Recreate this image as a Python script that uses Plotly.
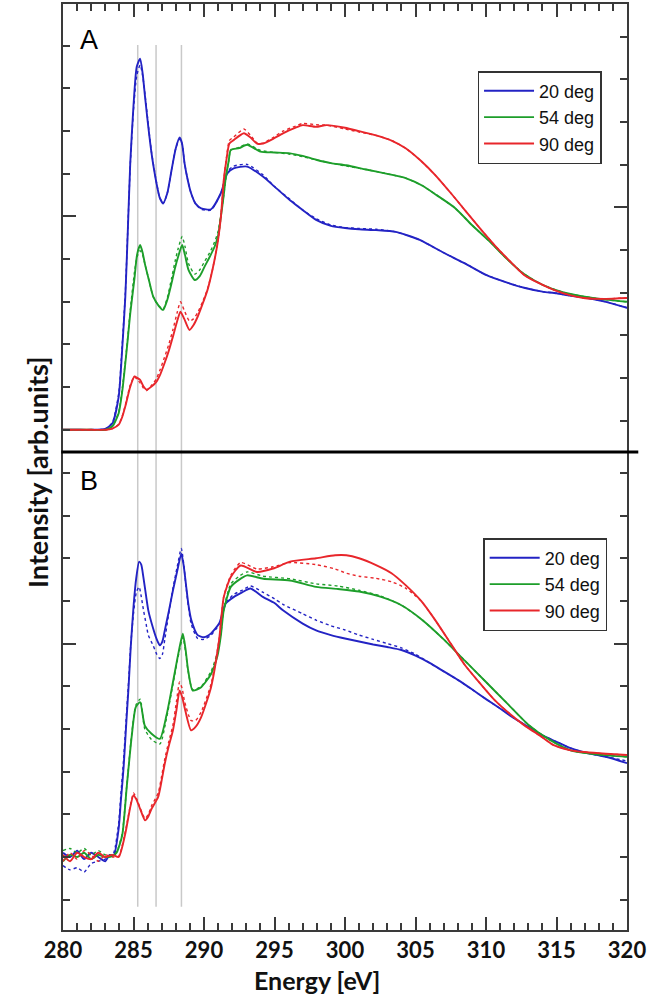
import plotly.graph_objects as go

# ---------------- data (energy in eV, intensity in tick units) ----------------
# Panel A
A_blue_E = [280, 281, 282, 283, 283.5, 283.95, 284.2, 284.42, 284.6, 284.77,
            285.0, 285.23, 285.47, 285.65, 285.82, 286.05, 286.28, 286.63, 286.85, 287.1,
            287.4, 287.7, 288.0, 288.27, 288.45, 288.62, 288.85, 289.08, 289.4, 289.8,
            290.5, 291.2, 291.65, 292.1, 293.06, 294.2, 295.0, 296.1, 297.0, 297.95,
            299, 300, 301, 302.2, 303.6, 305.3, 307, 308.5, 310, 311.5,
            312.7, 314, 315, 316, 317, 318.5, 320]
A_blue = [0, 0, 0, 0.02, 0.15, 0.78, 1.9, 3.12, 4.7, 6.25,
          7.6, 8.51, 8.7, 8.35, 7.8, 7.1, 6.48, 5.78, 5.45, 5.31,
          5.55, 6.09, 6.6, 6.85, 6.7, 6.25, 5.85, 5.55, 5.3, 5.19,
          5.17, 5.55, 6.01, 6.13, 6.17, 5.93, 5.7, 5.38, 5.15, 4.92,
          4.78, 4.73, 4.7, 4.68, 4.64, 4.45, 4.15, 3.9, 3.63, 3.45,
          3.33, 3.24, 3.2, 3.14, 3.1, 3.0, 2.86]
A_blue_dot = [0, 0, 0, 0.02, 0.17, 0.85, 2.0, 3.2, 4.75, 6.2,
              7.5, 8.3, 8.55, 8.3, 7.85, 7.15, 6.5, 5.8, 5.45, 5.3,
              5.55, 6.1, 6.6, 6.82, 6.7, 6.25, 5.85, 5.55, 5.3, 5.17,
              5.15, 5.55, 6.05, 6.18, 6.22, 5.97, 5.7, 5.4, 5.15, 4.95,
              4.8, 4.74, 4.72, 4.7, 4.64, 4.45, 4.15, 3.9, 3.63, 3.45,
              3.33, 3.24, 3.2, 3.14, 3.1, 3.0, 2.86]

A_green_E = [280, 281, 282, 283, 283.5, 283.95, 284.2, 284.42, 284.6, 284.77,
             285.07, 285.25, 285.47, 285.65, 285.8, 286.1, 286.4, 286.8, 287.1, 287.4,
             287.7, 287.95, 288.17, 288.45, 288.65, 288.9, 289.35, 289.7, 290.05, 290.4,
             290.75, 291.0, 291.2, 291.4, 291.55, 291.75, 291.9, 292.5, 293.06, 294.0,
             295, 296.1, 297, 297.95, 299, 300.1, 301.5, 303, 304.3, 305.5,
             306.5, 307.8, 309, 310.3, 311.5, 312.7, 314, 315.5, 317, 318.5,
             320]
A_green = [0, 0, 0, 0, 0.08, 0.39, 0.9, 1.56, 2.15, 2.73,
           3.55, 4.1, 4.33, 4.15, 3.9, 3.5, 3.12, 2.9, 2.81, 3.05,
           3.44, 3.8, 4.06, 4.33, 4.1, 3.75, 3.51, 3.6, 3.83, 4.05,
           4.29, 4.55, 5.0, 5.5, 5.93, 6.3, 6.56, 6.6, 6.68, 6.52,
           6.5, 6.48, 6.42, 6.33, 6.25, 6.2, 6.1, 6.0, 5.9, 5.72,
           5.5, 5.2, 4.8, 4.4, 4.0, 3.65, 3.4, 3.22, 3.12, 3.05,
           3.0]
A_green_dot = [0, 0, 0, 0, 0.09, 0.42, 0.95, 1.6, 2.2, 2.8,
               3.7, 4.05, 4.2, 4.1, 3.9, 3.5, 3.12, 2.9, 2.83, 3.1,
               3.55, 3.95, 4.25, 4.53, 4.3, 3.9, 3.65, 3.75, 3.95, 4.15,
               4.4, 4.65, 5.05, 5.5, 5.9, 6.3, 6.55, 6.62, 6.7, 6.55,
               6.5, 6.46, 6.4, 6.33, 6.25, 6.18, 6.1, 6.0, 5.9, 5.72,
               5.5, 5.2, 4.8, 4.4, 4.0, 3.65, 3.4, 3.22, 3.12, 3.05,
               3.0]

A_red_E = [280, 281, 282, 283, 283.5, 283.95, 284.2, 284.42, 284.77, 285.07,
           285.25, 285.47, 285.7, 285.93, 286.3, 286.63, 286.9, 287.2, 287.5, 287.8,
           288.1, 288.33, 288.6, 288.97, 289.25, 289.55, 289.9, 290.25, 290.6, 290.96,
           291.2, 291.4, 291.6, 291.8, 292.1, 292.83, 293.3, 293.76, 294.2, 294.9,
           295.6, 296.5, 297.0, 297.95, 298.7, 300, 301, 302.2, 303.3, 304.3,
           305.4, 306.4, 307.5, 308.5, 309.5, 310.6, 311.7, 312.7, 313.8, 314.8,
           316, 316.9, 318.5, 320]
A_red = [0, 0, 0, 0, 0.03, 0.12, 0.3, 0.55, 1.01, 1.25,
         1.22, 1.17, 1.02, 0.94, 1.02, 1.13, 1.3, 1.56, 1.85, 2.19,
         2.55, 2.77, 2.6, 2.34, 2.45, 2.65, 2.95, 3.28, 3.75, 4.37,
         5.0, 5.85, 6.35, 6.71, 6.79, 6.95, 6.85, 6.71, 6.71, 6.82,
         6.95, 7.08, 7.14, 7.1, 7.14, 7.08, 7.0, 6.9, 6.78, 6.6,
         6.3, 5.97, 5.55, 5.15, 4.75, 4.33, 3.95, 3.63, 3.43, 3.28,
         3.15, 3.09, 3.07, 3.09]
A_red_dot = [0, 0, 0, 0, 0.03, 0.13, 0.32, 0.58, 1.05, 1.25,
             1.18, 1.1, 0.98, 0.92, 1.05, 1.2, 1.42, 1.7, 2.0, 2.35,
             2.75, 3.0, 2.8, 2.55, 2.6, 2.75, 3.0, 3.3, 3.75, 4.37,
             5.0, 5.85, 6.4, 6.78, 6.86, 7.05, 6.9, 6.72, 6.72, 6.85,
             7.0, 7.12, 7.18, 7.15, 7.14, 7.05, 6.98, 6.9, 6.78, 6.6,
             6.3, 5.97, 5.55, 5.15, 4.75, 4.33, 3.95, 3.63, 3.43, 3.28,
             3.15, 3.09, 3.07, 3.09]

# Panel B
B_blue_E = [280, 280.5, 281, 281.5, 282, 282.5, 283, 283.3, 283.6, 283.95,
            284.1, 284.3, 284.5, 284.65, 284.8, 285.0, 285.2, 285.4, 285.55, 285.7,
            285.9, 286.05, 286.4, 286.65, 286.87, 287.05, 287.22, 287.5, 287.8, 288.1,
            288.39, 288.55, 288.74, 288.9, 289.1, 289.55, 290.0, 290.5, 291.07, 291.3,
            291.54, 292.1, 292.7, 293.29, 294.2, 295, 295.6, 297, 297.95, 299,
            300, 301, 302, 303, 304, 305, 306, 307, 308, 309,
            310, 311, 312, 313, 314, 315, 316, 317, 318.5, 320]
B_blue = [0.1, 0.0, 0.15, -0.05, 0.1, 0.0, -0.1, 0.05, 0.04, 0.67,
          1.3, 2.11, 3.2, 3.98, 4.9, 5.86, 6.55, 6.92, 6.85, 6.56,
          6.1, 5.78, 5.35, 5.1, 4.96, 5.05, 5.31, 5.75, 6.25, 6.7,
          7.11, 6.85, 6.33, 5.9, 5.55, 5.2, 5.15, 5.24, 5.47, 5.7,
          5.94, 6.09, 6.2, 6.29, 6.09, 5.95, 5.78, 5.47, 5.31, 5.2,
          5.12, 5.05, 4.98, 4.92, 4.85, 4.72, 4.55, 4.35, 4.15, 3.93,
          3.7, 3.48, 3.25, 3.05, 2.85, 2.7, 2.55, 2.45, 2.35, 2.2]
B_blue_dot = [-0.2, -0.3, -0.25, -0.35, -0.15, -0.1, -0.05, 0.0, 0.1, 0.8,
              1.45, 2.3, 3.35, 4.1, 4.95, 5.7, 6.2, 6.33, 6.1, 5.8,
              5.45, 5.2, 4.95, 4.75, 4.65, 4.75, 5.1, 5.7, 6.3, 6.8,
              7.23, 6.9, 6.3, 5.85, 5.45, 5.12, 5.1, 5.2, 5.45, 5.7,
              5.95, 6.15, 6.25, 6.35, 6.2, 6.05, 5.92, 5.7, 5.55, 5.42,
              5.32, 5.2, 5.1, 5.0, 4.9, 4.75, 4.55, 4.35, 4.15, 3.93,
              3.7, 3.48, 3.25, 3.05, 2.85, 2.7, 2.55, 2.45, 2.35, 2.25]

B_green_E = [280, 280.5, 281, 281.5, 282, 282.5, 283, 283.5, 283.8, 284.2,
             284.53, 284.88, 285.16, 285.47, 285.8, 286.28, 286.87, 287.34, 287.8, 288.2,
             288.5, 288.7, 288.86, 289.2, 289.8, 290.5, 290.96, 291.2, 291.4, 291.9,
             292.5, 293.06, 294.2, 296.1, 297.95, 299.5, 301, 302.5, 304, 305.5,
             307, 308.5, 310, 311.5, 313, 314.5, 316, 318, 320]
B_green = [-0.1, 0.05, 0.0, 0.1, -0.05, 0.05, 0.0, 0.02, 0.1, 0.51,
           1.68, 2.85, 3.51, 3.63, 3.08, 2.89, 2.77, 3.32, 4.1, 4.8,
           5.23, 4.85, 4.41, 3.9, 3.98, 4.29, 4.72, 5.2, 5.78, 6.33,
           6.5, 6.6, 6.52, 6.48, 6.33, 6.28, 6.22, 6.1, 5.9, 5.55,
           5.1, 4.6, 4.1, 3.6, 3.1, 2.75, 2.5, 2.4, 2.35]
B_green_dot = [0.15, 0.2, 0.1, 0.2, 0.05, 0.15, 0.05, 0.05, 0.12, 0.55,
               1.7, 2.9, 3.55, 3.7, 3.0, 2.75, 2.65, 3.25, 4.05, 4.75,
               5.15, 4.8, 4.38, 3.92, 4.0, 4.35, 4.8, 5.25, 5.8, 6.4,
               6.58, 6.68, 6.58, 6.52, 6.4, 6.35, 6.25, 6.12, 5.9, 5.55,
               5.1, 4.6, 4.1, 3.6, 3.1, 2.75, 2.5, 2.4, 2.35]

B_red_E = [280, 280.5, 281, 281.5, 282, 282.5, 283, 283.5, 283.95, 284.42,
           284.77, 285.0, 285.2, 285.47, 285.82, 286.05, 286.28, 286.75, 287.0, 287.22,
           287.5, 287.8, 288.05, 288.27, 288.45, 288.62, 289.08, 289.4, 289.8, 290.5,
           291.07, 291.4, 291.9, 292.6, 293.76, 294.9, 296.1, 297.95, 299.3, 300.1,
           301, 302.2, 303.3, 304.3, 305.4, 306.4, 307.5, 308.5, 309.5, 310.6,
           311.7, 312.7, 313.8, 314.8, 316, 317, 318.5, 320]
B_red = [0.05, -0.1, 0.1, 0.0, -0.05, 0.1, 0.0, 0.05, 0.0, 0.55,
         1.17, 1.45, 1.35, 1.13, 0.86, 0.95, 1.13, 1.41, 1.8, 2.19,
         2.6, 2.97, 3.45, 3.9, 3.75, 3.51, 2.97, 3.05, 3.28, 3.98,
         5.08, 6.09, 6.56, 6.83, 6.68, 6.76, 6.92, 7.0, 7.07, 7.07,
         7.0, 6.84, 6.65, 6.37, 6.0, 5.55, 5.0, 4.5, 4.1, 3.68,
         3.35, 3.09, 2.85, 2.62, 2.5, 2.46, 2.42, 2.39]
B_red_dot = [-0.1, 0.1, -0.05, 0.15, 0.05, -0.1, 0.05, 0.0, 0.02, 0.6,
             1.2, 1.5, 1.38, 1.15, 0.9, 1.0, 1.2, 1.5, 1.9, 2.3,
             2.7, 3.1, 3.65, 4.1, 3.95, 3.65, 3.2, 3.2, 3.4, 4.05,
             5.1, 6.1, 6.6, 6.9, 6.75, 6.8, 6.9, 6.85, 6.75, 6.65,
             6.58, 6.53, 6.45, 6.3, 6.0, 5.55, 5.0, 4.5, 4.1, 3.68,
             3.35, 3.09, 2.85, 2.62, 2.5, 2.46, 2.42, 2.39]

legend_names = ["20 deg", "54 deg", "90 deg"]
marker_lines_eV = [285.3, 286.6, 288.4]
x_major_ticks = [280, 285, 290, 295, 300, 305, 310, 315, 320]

BLUE, GREEN, RED = "#2323c4", "#1d9e2a", "#e8262b"

fig = go.Figure()

def add_pair(E, solid, dot, color, name, xa, ya, leg):
    fig.add_trace(go.Scatter(x=E, y=dot, mode="lines", xaxis=xa, yaxis=ya,
                             line=dict(color=color, width=1.4, dash="dot",
                                       shape="spline", smoothing=0.6),
                             showlegend=False, hoverinfo="skip"))
    fig.add_trace(go.Scatter(x=E, y=solid, mode="lines", xaxis=xa, yaxis=ya,
                             line=dict(color=color, width=1.9, shape="spline",
                                       smoothing=0.6),
                             name=name, legend=leg))

add_pair(A_blue_E, A_blue, A_blue_dot, BLUE, legend_names[0], "x2", "y2", "legend2")
add_pair(A_green_E, A_green, A_green_dot, GREEN, legend_names[1], "x2", "y2", "legend2")
add_pair(A_red_E, A_red, A_red_dot, RED, legend_names[2], "x2", "y2", "legend2")
add_pair(B_blue_E, B_blue, B_blue_dot, BLUE, legend_names[0], "x", "y", "legend")
add_pair(B_green_E, B_green, B_green_dot, GREEN, legend_names[1], "x", "y", "legend")
add_pair(B_red_E, B_red, B_red_dot, RED, legend_names[2], "x", "y", "legend")

# invisible trace so the shifted right-hand axis of panel A is drawn
fig.add_trace(go.Scatter(x=[300], y=[5], xaxis="x2", yaxis="y3", mode="markers",
                         marker=dict(opacity=0), showlegend=False, hoverinfo="skip"))

AX = "#3a3a3a"
split = 0.5162
common_y = dict(showgrid=False, zeroline=False, showticklabels=False,
                ticks="inside", tickvals=[5], ticklen=13, tickwidth=1.5, tickcolor=AX,
                minor=dict(ticks="inside", dtick=1, tick0=0, ticklen=7, tickwidth=1.5,
                           tickcolor=AX, showgrid=False))
common_x = dict(range=[280, 320], showgrid=False, zeroline=False,
                ticks="inside", tickvals=x_major_ticks, ticklen=13, tickwidth=1.5, tickcolor=AX,
                minor=dict(ticks="inside", dtick=1, tick0=280, ticklen=7, tickwidth=1.5,
                           tickcolor=AX, showgrid=False),
                showline=True, linecolor=AX, linewidth=2)

legend_style = dict(xanchor="left", yanchor="top", bgcolor="white",
                    bordercolor="#333", borderwidth=1.5,
                    font=dict(family="Liberation Sans", size=18, color="#111"),
                    tracegroupgap=0, itemwidth=50)

fig.update_layout(
    width=650, height=998,
    margin=dict(l=63, r=16, t=4, b=68),
    paper_bgcolor="white", plot_bgcolor="white",
    font=dict(family="Lato", color="#111"),
    xaxis=dict(anchor="y", domain=[0, 1], mirror=False,
               ticktext=[str(v) for v in x_major_ticks], ticklabeloverflow="allow",
               tickfont=dict(family="Lato", size=22, weight="bold", color="#111"),
               **common_x),
    xaxis2=dict(anchor="y2", domain=[0, 1], side="top", matches="x",
                showticklabels=False, **common_x),
    yaxis=dict(domain=[0, split], range=[-1.71, 9.49], anchor="x",
               showline=True, linecolor=AX, linewidth=2, mirror="ticks", **common_y),
    yaxis2=dict(domain=[split, 1], range=[-0.52, 9.98], anchor="x2",
                showline=True, linecolor=AX, linewidth=2, mirror=True, **common_y),
    yaxis3=dict(overlaying="y2", side="right", anchor="x2",
                range=[-0.52 - 0.218, 9.98 - 0.218], showline=False, **common_y),
    legend=dict(x=0.745, y=0.4233, **legend_style),
    legend2=dict(x=0.735, y=0.9276, **legend_style),
    showlegend=True,
)

shapes = [dict(type="line", xref="paper", yref="paper", x0=-0.003, x1=1.02,
               y0=split, y1=split, line=dict(color="black", width=3))]
for e in marker_lines_eV:
    shapes.append(dict(type="line", xref="x", yref="paper", x0=e, x1=e,
                       y0=0.025, y1=0.9557, layer="below",
                       line=dict(color="#c9c9c9", width=1.5)))
fig.update_layout(shapes=shapes)

fig.add_annotation(text="A", xref="paper", yref="paper", x=0.0455, y=0.9611,
                   xanchor="center", yanchor="middle",
                   showarrow=False, font=dict(family="Liberation Sans", size=27, color="black"))
fig.add_annotation(text="B", xref="paper", yref="paper", x=0.0455, y=0.4849,
                   xanchor="center", yanchor="middle",
                   showarrow=False, font=dict(family="Liberation Sans", size=27, color="black"))
fig.add_annotation(text="Intensity [arb.units]", xref="paper", yref="paper",
                   x=-0.079, y=0.4946, textangle=-90, showarrow=False,
                   font=dict(family="Lato", size=27, weight="bold", color="#111"))
fig.add_annotation(text="Energy [eV]", xref="x", yref="paper",
                   x=298, y=-0.0535, showarrow=False, yanchor="middle",
                   font=dict(family="Lato", size=25, weight="bold", color="#111"))

fig.write_html("out.html", post_script="document.body.style.margin='0';",
               config={"displayModeBar": False})
